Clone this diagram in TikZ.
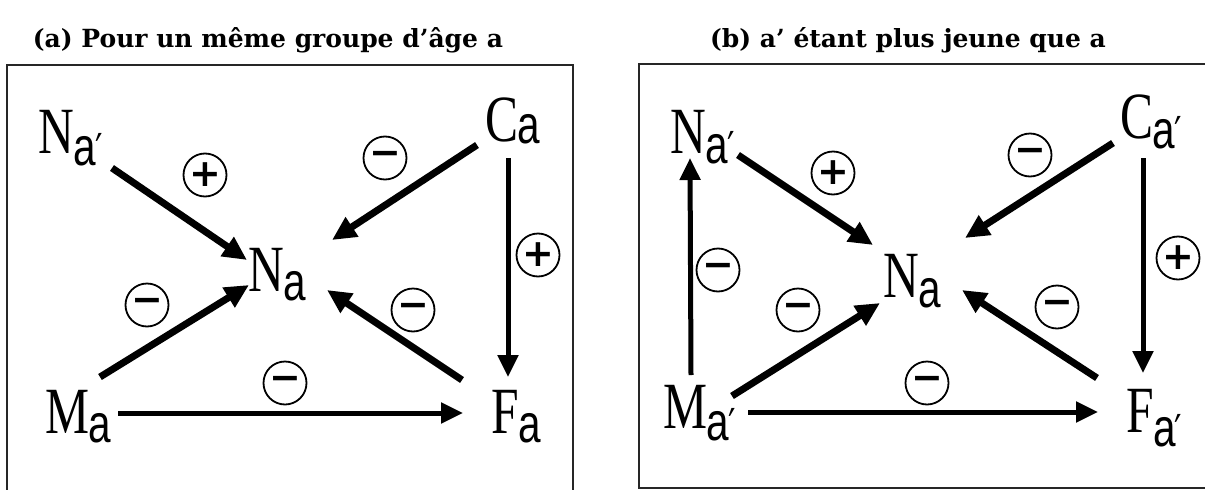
\documentclass[tikz,border=0pt]{standalone}
\usepackage{fontspec}
\usepackage{graphicx}
\usetikzlibrary{arrows.meta,calc}
\newfontfamily\capf{Liberation Serif}
\newfontfamily\subf{Liberation Sans}
\newfontfamily\primef{DejaVu Sans}
\newfontfamily\titf{DejaVu Serif}
\newfontfamily\sgnf{DejaVu Sans}
\newcommand\lab[3]{\hbox{{\capf\fontsize{66}{66}\selectfont\scalebox{0.75}[1]{#1}}\kern-0.5pt\raisebox{-#3pt}{\subf\fontsize{54}{54}\selectfont\scalebox{0.75}[1]{#2}}}}
\newcommand\pr{{\primef\fontsize{44}{44}\selectfont\kern-1pt ′}}
\tikzset{
  lbl/.style={anchor=base west, inner sep=0pt, outer sep=0pt},
  sgn/.style={circle, draw, line width=1.8pt, minimum size=43pt, inner sep=0pt,
    font=\sgnf\bfseries\fontsize{38}{38}\selectfont},
  darr/.style={line width=7pt, -{Triangle[length=24pt,width=22pt]}},
  sarr/.style={line width=5pt, -{Triangle[length=22pt,width=20pt]}},
  boxline/.style={line width=1.5pt, draw=black!85},
  ttl/.style={anchor=base, inner sep=0pt, font=\titf\bfseries\fontsize{25}{25}\selectfont}
}
\begin{document}
\begin{tikzpicture}[x=1pt,y=-1pt]
\useasboundingbox (0,0) rectangle (1205,490);
% titles
\node[ttl] (ta) at (268,47) {(a) Pour un même groupe d’âge a};
\node[ttl] (tb) at (908,47) {(b) a’ étant plus jeune que a};
% boxes
\draw[boxline] (7,500) -- (7,65) -- (573,65) -- (573,500);
\draw[boxline] (1215,488) -- (639,488) -- (639,64) -- (1215,64);
% left panel nodes
\node[lbl] (LNp) at (38,153) {\lab{N}{a\pr}{12}};
\node[lbl] (LC) at (485,141) {\lab{C}{a}{2}};
\node[lbl] (LN) at (248,291) {\lab{N}{a}{9}};
\node[lbl] (LM) at (45,433) {\lab{M}{a}{9}};
\node[lbl] (LF) at (491,433) {\lab{F}{a}{9}};
% left arrows
\draw[darr] ($(LNp.base west)+(74,15)$) -- ($(LN.base west)+(-1,-31)$);
\draw[darr] ($(LC.base west)+(-8,4)$) -- ($(LN.base west)+(84,-51)$);
\draw[sarr] ($(LC.base west)+(23,17)$) -- ($(LF.base west)+(17,-56)$);
\draw[darr] ($(LM.base west)+(55,-56)$) -- ($(LN.base west)+(1,-6)$);
\draw[sarr] ($(LM.base west)+(73,-20)$) -- ($(LF.base west)+(-28,-20)$);
\draw[darr] ($(LF.base west)+(-29,-53)$) -- ($(LN.base west)+(79,-1)$);
% left signs
\node[sgn] (ls1) at (205,175) {+};
\node[sgn] (ls2) at (385,158) {−};
\node[sgn] (ls3) at (538,255) {+};
\node[sgn] (ls4) at (147,305) {−};
\node[sgn] (ls5) at (285,383) {−};
\node[sgn] (ls6) at (413,310) {−};
% right panel nodes
\node[lbl] (RNp) at (670,153) {\lab{N}{a\pr}{10}};
\node[lbl] (RC) at (1120,138) {\lab{C}{a\pr}{10}};
\node[lbl] (RN) at (883,297) {\lab{N}{a}{10}};
\node[lbl] (RM) at (663,428) {\lab{M}{a\pr}{12}};
\node[lbl] (RF) at (1126,432) {\lab{F}{a\pr}{14}};
% right arrows
\draw[darr] ($(RNp.base west)+(68,2)$) -- ($(RN.base west)+(-10,-52)$);
\draw[sarr] ($(RM.base west)+(28,-53)$) -- ($(RNp.base west)+(20,5)$);
\draw[darr] ($(RC.base west)+(-7,5)$) -- ($(RN.base west)+(82,-59)$);
\draw[sarr] ($(RC.base west)+(23,20)$) -- ($(RF.base west)+(17,-59)$);
\draw[darr] ($(RM.base west)+(69,-32)$) -- ($(RN.base west)+(-3,6)$);
\draw[sarr] ($(RM.base west)+(85,-16)$) -- ($(RF.base west)+(-28,-20)$);
\draw[darr] ($(RF.base west)+(-29,-54)$) -- ($(RN.base west)+(79,-7)$);
% right signs
\node[sgn] (rs1) at (833,173) {+};
\node[sgn] (rs2) at (1030,155) {−};
\node[sgn] (rs3) at (1178,258) {+};
\node[sgn] (rs4) at (718,270) {−};
\node[sgn] (rs5) at (798,310) {−};
\node[sgn] (rs6) at (927,383) {−};
\node[sgn] (rs7) at (1057,307) {−};
\end{tikzpicture}
\end{document}
